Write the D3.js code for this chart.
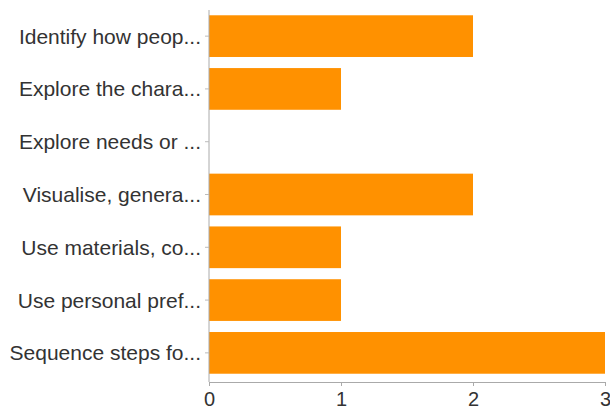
<!DOCTYPE html>
<html>
<head>
<meta charset="utf-8">
<script src="https://cdn.jsdelivr.net/npm/d3@7"></script>
<style>
  html, body { margin: 0; padding: 0; background: #fff; }
  svg { display: block; }
  .axis text { font-family: "Liberation Sans", Arial, Helvetica, sans-serif; fill: #333; }
</style>
</head>
<body>
<svg id="chart" width="610" height="414"></svg>
<script>
const categories = [
  "Identify how peop...",
  "Explore the chara...",
  "Explore needs or ...",
  "Visualise, genera...",
  "Use materials, co...",
  "Use personal pref...",
  "Sequence steps fo..."
];
const counts = [2, 1, 0, 2, 1, 1, 3];
const xTicks = [0, 1, 2, 3];

const svg = d3.select("#chart");
const plotLeft = 209, plotRight = 605, plotTop = 10, plotBottom = 382;

const x = d3.scaleLinear().domain([0, 3]).range([plotLeft, plotRight]);
const y = d3.scaleBand().domain(categories).range([plotTop, 379]).paddingInner(0.21).paddingOuter(0.1);

// bars
svg.append("g")
  .selectAll("rect")
  .data(categories)
  .join("rect")
  .attr("x", x(0))
  .attr("y", d => y(d))
  .attr("width", (d, i) => x(counts[i]) - x(0))
  .attr("height", y.bandwidth())
  .attr("fill", "#ff9100");

// bottom axis
const xAxis = svg.append("g")
  .attr("class", "axis")
  .attr("transform", `translate(0,${plotBottom})`)
  .call(d3.axisBottom(x).tickValues(xTicks).tickFormat(d3.format("d")).tickSize(4).tickSizeOuter(0).tickPadding(6));
xAxis.select(".domain").attr("stroke", "#aaa");
xAxis.selectAll(".tick line").attr("stroke", "#aaa");
xAxis.selectAll("text").style("font-size", "20px");

// left axis
const yAxis = svg.append("g")
  .attr("class", "axis")
  .attr("transform", `translate(${plotLeft},0)`)
  .call(d3.axisLeft(y).tickSize(4).tickSizeOuter(0).tickPadding(4));
yAxis.select(".domain").attr("stroke", "#aaa").attr("d", `M0,${plotTop}V${plotBottom}`);
yAxis.selectAll(".tick line").attr("stroke", "#bbb");
yAxis.selectAll("text").style("font-size", "21px").attr("dy", "0.36em");
</script>
</body>
</html>
